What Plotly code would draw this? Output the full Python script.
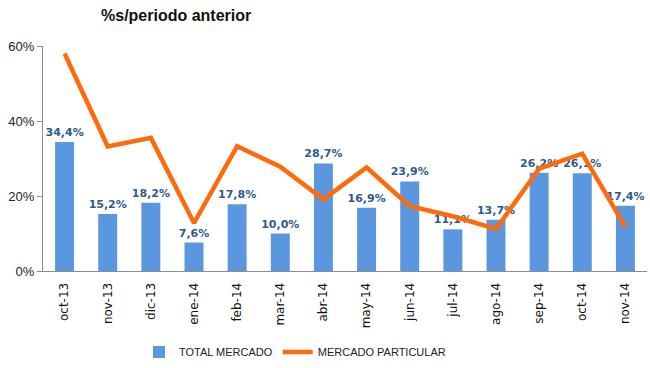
import plotly.graph_objects as go

categories = ["oct-13", "nov-13", "dic-13", "ene-14", "feb-14", "mar-14", "abr-14",
              "may-14", "jun-14", "jul-14", "ago-14", "sep-14", "oct-14", "nov-14"]
total_mercado = [34.4, 15.2, 18.2, 7.6, 17.8, 10.0, 28.7, 16.9, 23.9, 11.1, 13.7, 26.2, 26.1, 17.4]
mercado_particular = [58.0, 33.2, 35.5, 12.8, 33.3, 27.8, 19.1, 27.6, 17.3, 14.6, 11.2, 27.3, 31.3, 11.7]

bar_labels = [f"<b>{v:.1f}%</b>".replace(".", ",") for v in total_mercado]

fig = go.Figure()
fig.add_trace(go.Bar(
    x=categories, y=[v / 100 for v in total_mercado], name="TOTAL MERCADO",
    marker=dict(color="#5B97DE", line=dict(width=0)), width=0.44,
    text=bar_labels, textposition="outside", cliponaxis=False, constraintext="none",
    textfont=dict(family="DejaVu Sans", size=11, color="#2E5A8E"),
))
fig.add_trace(go.Scatter(
    x=categories, y=[v / 100 for v in mercado_particular], name="MERCADO PARTICULAR",
    mode="lines", line=dict(color="#FF6A0A", width=4.5), cliponaxis=False,
))

fig.update_layout(
    width=650, height=368,
    margin=dict(l=43, r=3, t=46, b=97, autoexpand=False),
    plot_bgcolor="white", paper_bgcolor="white",
    font=dict(family="Liberation Sans", size=12, color="#222222"),
    showlegend=True,
    legend=dict(orientation="h", x=295 / 650, xanchor="center", xref="container",
                y=1 - 352 / 368, yanchor="middle", yref="container",
                font=dict(family="Liberation Sans Narrow, Liberation Sans", size=11, color="#222222"),
                itemwidth=30, tracegroupgap=0),
    bargap=0.56,
    annotations=[dict(text="<b>%s/periodo anterior</b>", showarrow=False,
                      xref="paper", yref="paper", x=(176 - 43) / 604, y=1 + (46 - 15) / 225,
                      xanchor="center", yanchor="middle",
                      font=dict(family="Liberation Sans", size=16, color="#111111"))],
)
fig.update_yaxes(range=[0, 0.6], tickvals=[0, 0.2, 0.4, 0.6], tickformat=".0%",
                 showgrid=False, showline=True, linecolor="#8C8C8C", linewidth=1,
                 ticks="outside", ticklen=5, tickcolor="#8C8C8C", automargin=False,
                 tickfont=dict(family="Liberation Sans", size=13, color="#222222"), zeroline=False)
fig.update_xaxes(range=[-0.5, 13.5], showgrid=False, showline=True, linecolor="#8C8C8C", linewidth=1,
                 ticks="", tickangle=-90, automargin=False, ticklabelstandoff=6,
                 tickfont=dict(family="DejaVu Sans", size=12, color="#111111"))

fig.write_html("out.html", config={"displayModeBar": False},
               post_script="document.body.style.margin='0';")
